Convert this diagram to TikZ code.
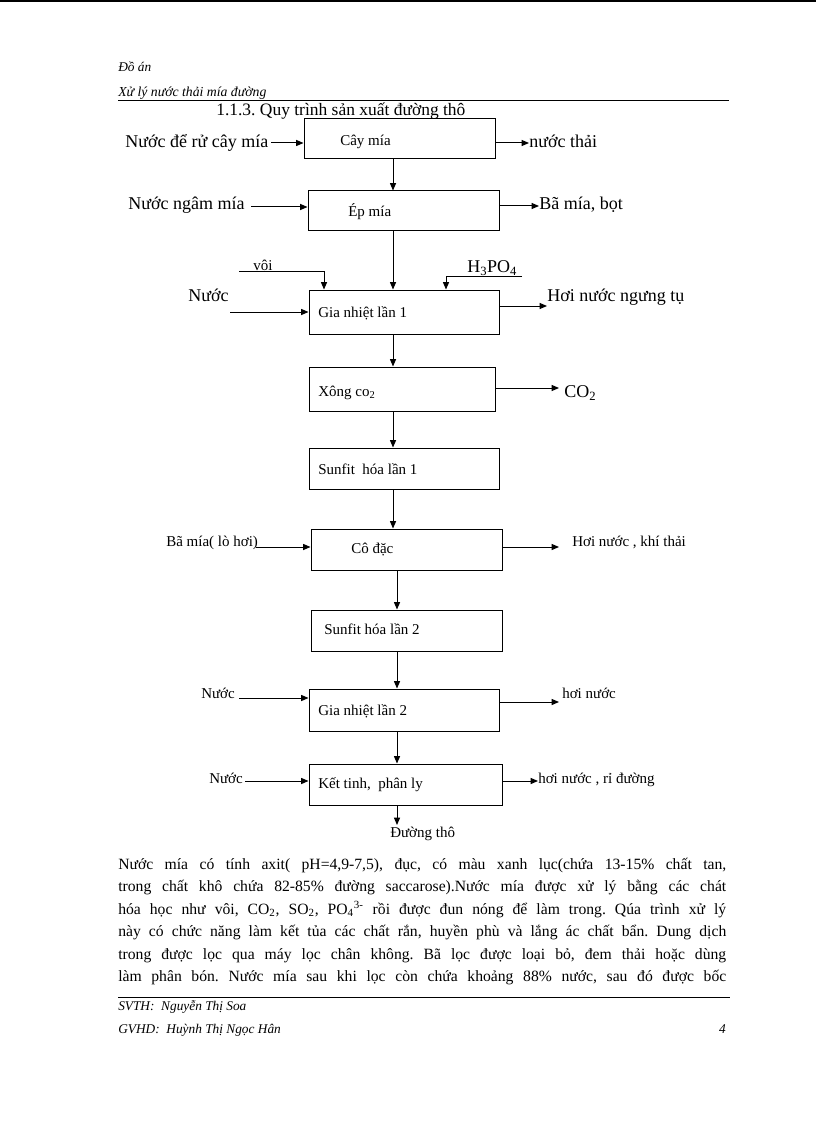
\documentclass[tikz,border=0pt]{standalone}
\usepackage{fontspec}
\setmainfont{Liberation Serif}
\usetikzlibrary{arrows.meta,fit}
\frenchspacing
\begin{document}
\begin{tikzpicture}[x=0.75pt,y=-0.75pt,
  box/.style={draw,line width=0.75pt,inner sep=0pt},
  big/.style={font=\fontsize{13.5}{16}\selectfont,inner sep=0pt,anchor=west,text height=9.5pt,text depth=2.7pt},
  small/.style={font=\fontsize{11.25}{13}\selectfont,inner sep=0pt,anchor=west,text height=7.9pt,text depth=2.25pt},
  hdr/.style={font=\fontsize{10}{12}\selectfont\itshape,inner sep=0pt,anchor=west,text height=7pt,text depth=2pt},
  para/.style={font=\fontsize{11.75}{16}\selectfont,inner sep=0pt,anchor=base west},
  arr/.style={line width=0.75pt,-{Triangle[length=5.5pt,width=4.5pt]}},
  ln/.style={line width=0.75pt}]
\fill[white] (0,0) rectangle (816,1123);
\useasboundingbox (0,0) rectangle (816,1123);
\draw[line width=1.5pt] (0,1) -- (816,1);
% header
\node[hdr] (h1) at (118,68) {Đồ án};
\node[hdr,font=\fontsize{10.3}{12}\selectfont\itshape] (h2) at (118,93) {Xử lý nước thải mía đường};
\draw[ln] (118,101) -- (729,101);
\node[big,font=\fontsize{13.1}{16}\selectfont] (title) at (216,111) {1.1.3. Quy trình sản xuất đường thô};
% boxes
\node[box,fit={(304,119)(495,159)}] (b1) {};
\node[box,fit={(308,191)(499,231)}] (b2) {};
\node[box,fit={(309,290)(499,334)}] (b3) {};
\node[box,fit={(309,367)(495,411)}] (b4) {};
\node[box,fit={(309,448)(499,489)}] (b5) {};
\node[box,fit={(311,529)(502,570)}] (b6) {};
\node[box,fit={(311,610)(502,651)}] (b7) {};
\node[box,fit={(309,689)(499,731)}] (b8) {};
\node[box,fit={(309,764)(502,805)}] (b9) {};
% box labels
\node[small] (t1) at (340,142) {Cây mía};
\node[small] (t2) at (348,213) {Ép mía};
\node[small] (t3) at (318,314) {Gia nhiệt lần 1};
\node[small] (t4) at (318,393) {Xông co\textsubscript{2}};
\node[small] (t5) at (318,471) {Sunfit\ \ hóa lần 1};
\node[small] (t6) at (351,550) {Cô đặc};
\node[small] (t7) at (324,631) {Sunfit hóa lần 2};
\node[small] (t8) at (318,712) {Gia nhiệt lần 2};
\node[small] (t9) at (318,785) {Kết tinh,\ \ phân ly};
% left labels
\node[big] (l1) at (125,143) {Nước để rử cây mía};
\node[big] (l2) at (128,205) {Nước ngâm mía};
\node[small] (l3a) at (253,267) {vôi};
\node[big] (l3b) at (467,268) {H\textsubscript{3}PO\textsubscript{4}};
\node[big] (l3c) at (188,297) {Nước};
\node[small] (l6) at (166,543) {Bã mía( lò hơi)};
\node[small] (l8) at (201,695) {Nước};
\node[small] (l9) at (209,780) {Nước};
% right labels
\node[big] (r1) at (529,143) {nước thải};
\node[big] (r2) at (539,205) {Bã mía, bọt};
\node[big] (r3) at (547,297) {Hơi nước ngưng tụ};
\node[big] (r4) at (564,393) {CO\textsubscript{2}};
\node[small] (r6) at (572,543) {Hơi nước , khí thải};
\node[small] (r8) at (562,695) {hơi nước};
\node[small] (r9) at (538,780) {hơi nước , rỉ đường};
\node[small] (out) at (390,834) {Đường thô};
% coordinates
\coordinate (xa) at (393,0);
\coordinate (xb) at (397,0);
\coordinate (i1) at (271,143);
\coordinate (i2) at (251,207);
\coordinate (v0) at (239,271);
\coordinate (v1) at (324,271);
\coordinate (p0) at (522,276);
\coordinate (p1) at (446,276);
\coordinate (i3) at (230,312);
\coordinate (i6) at (256,547);
\coordinate (i8) at (239,698);
\coordinate (i9) at (245,781);
\coordinate (o1) at (529,143);
\coordinate (o2) at (539,206);
\coordinate (o3) at (547,306);
\coordinate (o4) at (559,388);
\coordinate (o6) at (559,547);
\coordinate (o8) at (559,702);
\coordinate (o9) at (538,781);
\coordinate (o10) at (397,825);
% main flow
\draw[arr] (xa |- b1.south) -- (xa |- b2.north);
\draw[arr] (xa |- b2.south) -- (xa |- b3.north);
\draw[arr] (xa |- b3.south) -- (xa |- b4.north);
\draw[arr] (xa |- b4.south) -- (xa |- b5.north);
\draw[arr] (xa |- b5.south) -- (xa |- b6.north);
\draw[arr] (xb |- b6.south) -- (xb |- b7.north);
\draw[arr] (xb |- b7.south) -- (xb |- b8.north);
\draw[arr] (xb |- b8.south) -- (xb |- b9.north);
\draw[arr] (xb |- b9.south) -- (o10);
% inputs
\draw[arr] (i1) -- (i1 -| b1.west);
\draw[arr] (i2) -- (i2 -| b2.west);
\draw[arr] (v0) -- (v1) -- (v1 |- b3.north);
\draw[arr] (p0) -- (p1) -- (p1 |- b3.north);
\draw[arr] (i3) -- (i3 -| b3.west);
\draw[arr] (i6) -- (i6 -| b6.west);
\draw[arr] (i8) -- (i8 -| b8.west);
\draw[arr] (i9) -- (i9 -| b9.west);
% outputs
\draw[arr] (o1 -| b1.east) -- (o1);
\draw[arr] (o2 -| b2.east) -- (o2);
\draw[arr] (o3 -| b3.east) -- (o3);
\draw[arr] (o4 -| b4.east) -- (o4);
\draw[arr] (o6 -| b6.east) -- (o6);
\draw[arr] (o8 -| b8.east) -- (o8);
\draw[arr] (o9 -| b9.east) -- (o9);
% paragraph
\node[para] (p1l) at (118,869) {\makebox[456pt][s]{Nước mía có tính axit( pH=4,9-7,5), đục, có màu xanh lục(chứa 13-15\% chất tan,}};
\node[para] (p2l) at (118,891.5) {\makebox[456pt][s]{trong chất khô chứa 82-85\% đường saccarose).Nước mía được xử lý bằng các chát}};
\node[para] (p3l) at (118,914) {\makebox[456pt][s]{hóa học như vôi, CO\textsubscript{2}, SO\textsubscript{2}, PO\textsubscript{4}\textsuperscript{3-} rồi được đun nóng để làm trong. Qúa trình xử lý}};
\node[para] (p4l) at (118,936.5) {\makebox[456pt][s]{này có chức năng làm kết tủa các chất rắn, huyền phù và lắng ác chất bẩn. Dung dịch}};
\node[para] (p5l) at (118,959) {\makebox[456pt][s]{trong được lọc qua máy lọc chân không. Bã lọc được loại bỏ, đem thải hoặc dùng}};
\node[para] (p6l) at (118,981.5) {\makebox[456pt][s]{làm phân bón. Nước mía sau khi lọc còn chứa khoảng 88\% nước, sau đó được bốc}};
% footer
\draw[ln] (118,997) -- (730,997);
\node[hdr] (f1) at (118,1007) {SVTH:\ \ Nguyễn Thị Soa};
\node[hdr] (f2) at (118,1030) {GVHD:\ \ Huỳnh Thị Ngọc Hân};
\node[hdr,anchor=east] (f3) at (726,1030) {4};
\end{tikzpicture}
\end{document}
